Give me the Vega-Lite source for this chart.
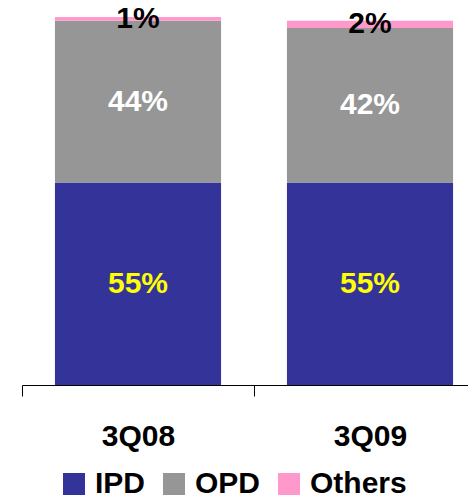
{
  "$schema": "https://vega.github.io/schema/vega-lite/v6.json",
  "width": 446,
  "height": 368,
  "autosize": {"type": "none"},
  "padding": {"left": 22, "top": 17, "right": 0, "bottom": 114},
  "background": "#ffffff",
  "config": {
    "view": {"stroke": null},
    "font": "Liberation Sans"
  },
  "data": {
    "values": [
      {"quarter": "3Q08", "type": "IPD", "rank": 1, "share": 55},
      {"quarter": "3Q08", "type": "OPD", "rank": 2, "share": 44},
      {"quarter": "3Q08", "type": "Others", "rank": 3, "share": 1},
      {"quarter": "3Q09", "type": "IPD", "rank": 1, "share": 55},
      {"quarter": "3Q09", "type": "OPD", "rank": 2, "share": 42},
      {"quarter": "3Q09", "type": "Others", "rank": 3, "share": 2}
    ]
  },
  "transform": [
    {
      "stack": "share",
      "groupby": ["quarter"],
      "sort": [{"field": "rank", "order": "ascending"}],
      "as": ["y0", "y1"]
    },
    {"calculate": "(datum.y0 + datum.y1) / 2", "as": "ymid"},
    {"calculate": "datum.share + '%'", "as": "label"}
  ],
  "encoding": {
    "x": {
      "field": "quarter",
      "type": "nominal",
      "sort": ["3Q08", "3Q09"],
      "scale": {"paddingInner": 0, "paddingOuter": 0, "range": [0, 464]},
      "axis": {
        "title": null,
        "tickBand": "extent",
        "labelAngle": 0,
        "labelFont": "Liberation Sans",
        "labelFontWeight": "bold",
        "labelFontSize": 30,
        "labelColor": "#000000",
        "labelPadding": 25,
        "domainColor": "#000000",
        "domainWidth": 1,
        "tickColor": "#000000",
        "tickWidth": 1,
        "tickSize": 11,
        "grid": false
      }
    }
  },
  "layer": [
    {
      "mark": {"type": "bar", "width": {"band": 0.716}},
      "encoding": {
        "y": {
          "field": "y0",
          "type": "quantitative",
          "scale": {"domain": [0, 100], "nice": false, "zero": true},
          "axis": null
        },
        "y2": {"field": "y1"},
        "color": {
          "field": "type",
          "type": "nominal",
          "scale": {
            "domain": ["IPD", "OPD", "Others"],
            "range": ["#333399", "#969696", "#ff99cc"]
          },
          "legend": {
            "title": null,
            "orient": "none",
            "direction": "horizontal",
            "legendX": 37,
            "legendY": 452,
            "padding": 0,
            "symbolType": "square",
            "symbolSize": 484,
            "symbolStrokeWidth": 0,
            "symbolOpacity": 1,
            "labelFont": "Liberation Sans",
            "labelFontWeight": "bold",
            "labelFontSize": 30,
            "labelColor": "#000000",
            "labelOffset": 6,
            "columnPadding": 13
          }
        }
      }
    },
    {
      "mark": {
        "type": "text",
        "font": "Liberation Sans",
        "fontWeight": "bold",
        "fontSize": 30,
        "baseline": "middle",
        "align": "center"
      },
      "encoding": {
        "y": {"field": "ymid", "type": "quantitative"},
        "text": {"field": "label", "type": "nominal"},
        "color": {
          "condition": [
            {"test": "datum.type === 'IPD'", "value": "#ffff00"},
            {"test": "datum.type === 'OPD'", "value": "#ffffff"}
          ],
          "value": "#000000"
        }
      }
    }
  ]
}
